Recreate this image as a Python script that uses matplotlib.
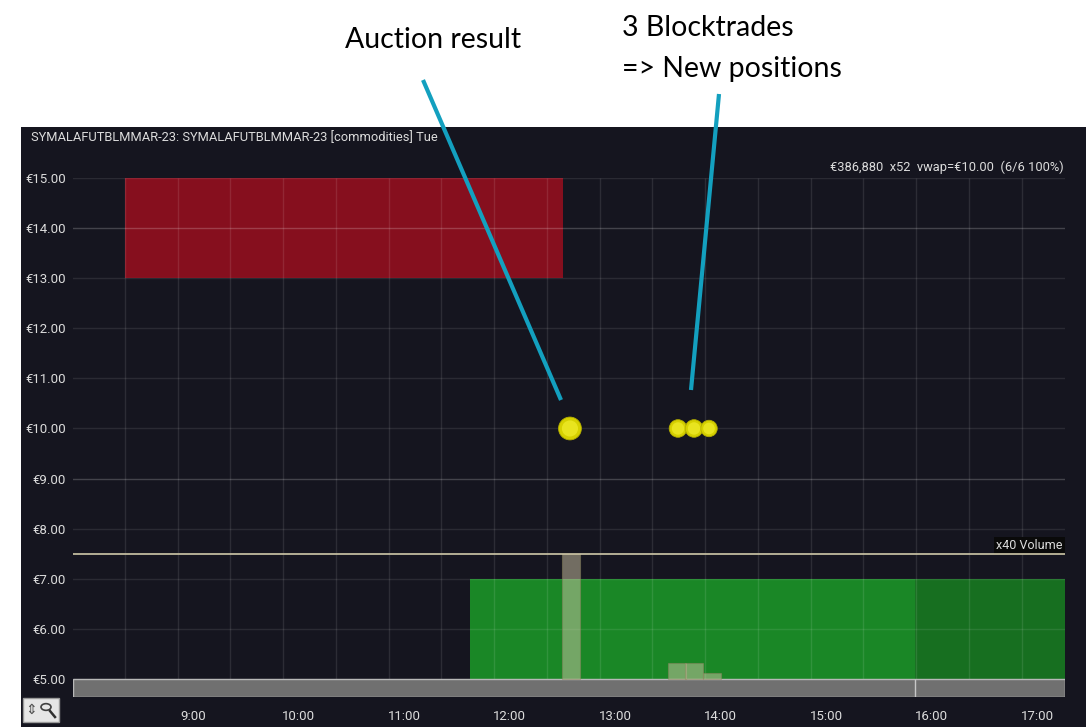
import numpy as np
import matplotlib.pyplot as plt
from matplotlib.patches import Rectangle, Circle
from matplotlib.lines import Line2D

W, H = 1089, 727

# price axis and time axis (hours)
price_ticks = [5, 6, 7, 8, 9, 10, 11, 12, 13, 14, 15]
hour_ticks = [9, 10, 11, 12, 13, 14, 15, 16, 17]
hour_labels = ["9:00", "10:00", "11:00", "12:00", "13:00", "14:00", "15:00", "16:00", "17:00"]
grid_times = [8.355, 8.855, 9.355, 9.855, 10.355, 10.855, 11.355, 11.855, 12.355,
              12.855, 13.355, 13.855, 14.355, 14.855, 15.355, 15.855, 16.355, 16.855]
x_range = (7.863, 17.265)

# offer zone (red) and bid zone (green)
offer_start, offer_end, offer_low, offer_high = 8.355, 12.507, 13.0, 15.0
bid_start, bid_low, bid_high = 11.626, 5.0, 7.0
close_time = 15.844

# trades
trade_times = [12.573, 13.597, 13.749, 13.891]
trade_prices = [10.0, 10.0, 10.0, 10.0]
trade_sizes = [270, 160, 160, 140]

# volume per 10 minute bucket
vol_times = [12.5, 13.5, 13.667, 13.833]
vol_values = [40, 5, 5, 2]
vol_max = 40

bg = "#15151f"
txt = "#dcdcdc"
font = ["Roboto", "DejaVu Sans"]

fig = plt.figure(figsize=(W / 100, H / 100), dpi=100)
fig.patch.set_facecolor("white")

# dark chart panel
fig.add_artist(Rectangle((21 / W, 0), (1086 - 21) / W, (H - 127) / H,
                         transform=fig.transFigure, facecolor=bg, edgecolor="none", zorder=0))

ax = fig.add_axes([73 / W, 1 - 697 / H, (1065 - 73) / W, (697 - 178) / H])
ax.set_facecolor(bg)
ax.set_xlim(*x_range)
ax.set_ylim(4.64, 15.0)
for s in ax.spines.values():
    s.set_visible(False)

# zones
ax.add_patch(Rectangle((offer_start, offer_low), offer_end - offer_start, offer_high - offer_low,
                       facecolor="#860f1e", edgecolor="none", zorder=1))
ax.add_patch(Rectangle((bid_start, bid_low), close_time - bid_start, bid_high - bid_low,
                       facecolor="#1a8726", edgecolor="none", zorder=1))
ax.add_patch(Rectangle((close_time, bid_low), x_range[1] - close_time, bid_high - bid_low,
                       facecolor="#176f20", edgecolor="none", zorder=1))

# grid
for p in price_ticks:
    a = 0.2 if p in (9, 14) else 0.09
    ax.axhline(p, color="white", lw=1, alpha=a, zorder=2)
ax.vlines(grid_times, 5, 15, color="white", lw=1, alpha=0.1, zorder=2)

# session bar
ax.add_patch(Rectangle((x_range[0], 4.64), x_range[1] - x_range[0], 0.36,
                       facecolor="#707070", edgecolor="#b8b8b8", lw=1, zorder=3))
ax.vlines([close_time], 4.64, 5.0, color="#c8c8c8", lw=1, zorder=4)

# volume on its own scale
ax2 = ax.twinx()
ax2.set_ylim(-5.76, 160)
ax2.set_yticks([])
for s in ax2.spines.values():
    s.set_visible(False)
ax2.set_zorder(ax.get_zorder() + 1)
ax2.patch.set_visible(False)
ax2.bar(vol_times, vol_values, width=0.17, align="edge", color="#cfc6a6", alpha=0.5,
        edgecolor="#8a845c", lw=0.8, zorder=3)
ax2.axhline(vol_max, color="#cfc8a8", lw=1.2, zorder=4)
ax2.text(0.9975, (vol_max + 5.76) / 165.76 + 0.004, "x40 Volume", transform=ax2.transAxes,
         ha="right", va="bottom", color=txt, fontsize=9, family=font,
         bbox=dict(facecolor="#0a0a0a", edgecolor="none", pad=1.5))

# trades (on the volume axis so they sit on top)
trade_y = [(p - 5) * 16 for p in trade_prices]
ax2.scatter(trade_times, trade_y, s=trade_sizes, color="#d6d000", edgecolor="#b4ae00",
            lw=0.6, zorder=5)
ax2.scatter(trade_times, trade_y, s=[v * 0.5 for v in trade_sizes], color="#eeea28",
            edgecolor="none", alpha=0.8, zorder=6)

# ticks
ax.set_yticks(price_ticks)
ax.set_yticklabels([f"€{p:.2f}" for p in price_ticks])
ax.set_xticks(hour_ticks)
ax.set_xticklabels(hour_labels)
ax.tick_params(length=0, colors=txt, labelsize=9.5)
ax.tick_params(axis="y", pad=5)
ax.tick_params(axis="x", pad=9)
for lab in ax.get_xticklabels() + ax.get_yticklabels():
    lab.set_family(font)

# header texts
fig.text(31 / W, 1 - 138 / H, "SYMALAFUTBLMMAR-23: SYMALAFUTBLMMAR-23 [commodities] Tue",
         color=txt, fontsize=9.3, family=font, ha="left", va="center")
fig.text(1064 / W, 1 - 167 / H, "€386,880  x52  vwap=€10.00  (6/6 100%)",
         color=txt, fontsize=9.3, family=font, ha="right", va="center")

# zoom button
fig.add_artist(Rectangle((23 / W, 1 - 722 / H), 36 / W, 24 / H, transform=fig.transFigure,
                         facecolor="#e6e6e6", edgecolor="#9a9a9a", lw=1, zorder=5))
fig.text(31 / W, 1 - 710 / H, "⇕", color="#505050", fontsize=10, ha="center", va="center", zorder=6)
fig.add_artist(Circle((46 / W, 1 - 707 / H), 5 / W, transform=fig.transFigure,
                      facecolor="none", edgecolor="#404040", lw=1.2, zorder=6))
fig.add_artist(Line2D([50 / W, 55 / W], [1 - 711 / H, 1 - 717 / H], transform=fig.transFigure,
                      color="#303030", lw=1.8, zorder=6))

# annotations
blue = "#13a0bf"
fig.add_artist(Line2D([423 / W, 561 / W], [1 - 80 / H, 1 - 400 / H], transform=fig.transFigure,
                      color=blue, lw=3, solid_capstyle="butt", zorder=7))
fig.add_artist(Line2D([719 / W, 691 / W], [1 - 94 / H, 1 - 390 / H], transform=fig.transFigure,
                      color=blue, lw=3, solid_capstyle="butt", zorder=7))
ann_font = ["Lato", "DejaVu Sans"]
fig.text(345 / W, 1 - 48 / H, "Auction result", color="black", fontsize=20.5,
         family=ann_font, ha="left", va="baseline")
fig.text(622 / W, 1 - 36 / H, "3 Blocktrades", color="black", fontsize=20.5,
         family=ann_font, ha="left", va="baseline")
fig.text(622 / W, 1 - 77 / H, "=> New positions", color="black", fontsize=20.5,
         family=ann_font, ha="left", va="baseline")

fig.savefig("out.png", dpi=100, facecolor=fig.get_facecolor())
